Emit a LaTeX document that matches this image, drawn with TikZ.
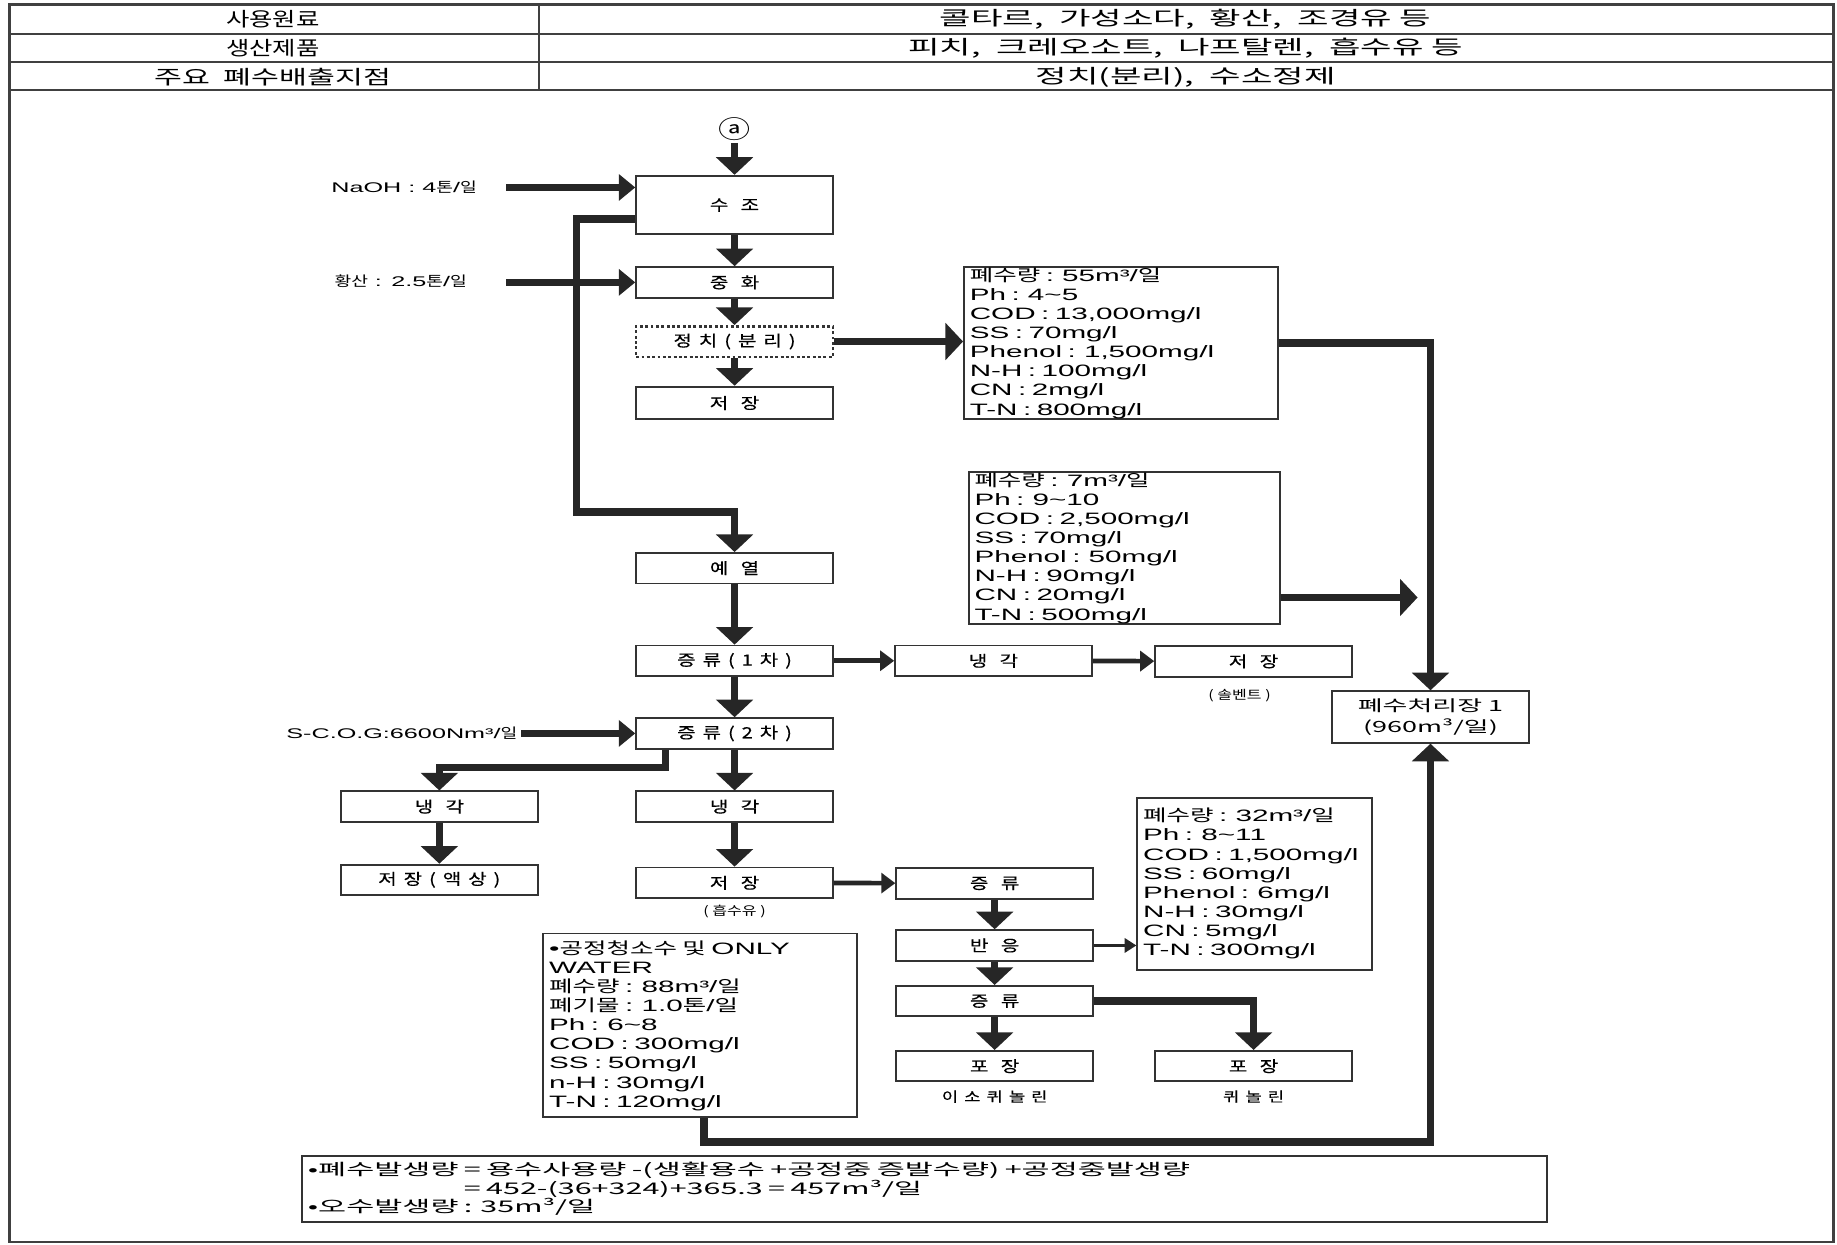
\documentclass[tikz,border=0pt]{standalone}
\usepackage{fontspec}
\setmainfont[FakeStretch=1.8]{Liberation Sans}
\newfontfamily\kr[FakeStretch=1.3]{Noto Sans CJK KR}
\newfontfamily\krw[FakeStretch=1.55]{Noto Sans CJK KR}
\newfontfamily\krt[FakeStretch=1.75]{Noto Sans CJK KR}
\newfontfamily\krb[FakeStretch=1.9]{Noto Sans CJK KR}
\newfontfamily\krbox[FakeStretch=1.3,LetterSpace=45,FakeBold=0.4]{Noto Sans CJK KR}
\usetikzlibrary{arrows.meta, calc}
\newcommand\kgap{\hspace{6pt}}

\begin{document}
\begin{tikzpicture}[x=0.02cm, y=-0.02cm,
    procbox/.style={draw=black!80, line width=0.9pt, fill=white, minimum width=3.36cm,
        minimum height=0.52cm, inner sep=0pt, font=\krbox\fontsize{7.5}{8}\selectfont},
    databox/.style={draw=black!80, line width=0.9pt, anchor=north west, align=left,
        inner xsep=0.1cm, inner ysep=0pt, font=\fontsize{8}{9.3}\selectfont},
    inlabel/.style={inner sep=0pt, font=\fontsize{6.8}{7.5}\selectfont},
    sublabel/.style={inner sep=0pt, font=\kr\fontsize{6}{7}\selectfont},
    tabtxt/.style={inner sep=0pt, font=\kr\fontsize{9.5}{11}\selectfont},
    tabline/.style={draw=black!75, line width=1.2pt},
    bigarrow/.style={draw=black!85, line width=0.13cm, -{Triangle[width=0.62cm,length=0.3cm]}},
    hbigarrow/.style={draw=black!85, line width=0.13cm, -{Triangle[width=0.44cm,length=0.28cm]}},
    midarrow/.style={draw=black!85, line width=0.08cm, -{Triangle[width=0.34cm,length=0.24cm]}},
    thinarrow/.style={draw=black!85, line width=0.06cm, -{Triangle[width=0.24cm,length=0.2cm]}}]

    \useasboundingbox (0,0) rectangle (1568,1062);

    % Header table and outer frame
    \draw[tabline] (8,4) rectangle (1565,1060);
    \foreach \y in {29,53,77}{
        \draw[tabline] (8,\y) -- (1565,\y);
    }
    \draw[tabline] (460,4) -- (460,77);
    \foreach \ty/\ta/\tb [count=\i] in {16/사용원료/{콜타르,\ \ 가성소다,\ \ 황산,\ \ 조경유\ 등},
                                        41/생산제품/{피치,\ \ 크레오소트,\ \ 나프탈렌,\ \ 흡수유\ 등},
                                        66/{\krw 주요\ \ 폐수배출지점}/{정치(분리),\ \ 수소정제}}{
        \node[tabtxt] (tabL\i) at (233,\ty) {\ta};
        \node[tabtxt, font=\krt\fontsize{9.5}{11}\selectfont] (tabR\i) at (1012,\ty) {\tb};
    }

    % Main process column
    \node[inner sep=1pt, font=\kr\fontsize{12}{13}\selectfont] (inA) at (627,110) {ⓐ};
    \node[procbox, minimum height=1cm] (suzo) at (627,175) {수\kgap 조};
    \node[procbox] (junghwa) at (627,241) {중\kgap 화};
    \node[procbox, dash pattern=on 1.4pt off 1.2pt, line width=1.2pt] (jungchi) at (627,291.5) {정치(분리)};
    \node[procbox, minimum height=0.56cm] (store1) at (627,344) {저\kgap 장};
    \node[procbox] (preheat) at (627,485) {예\kgap 열};
    \node[procbox] (dist1) at (627,564) {증류(1차)};
    \node[procbox] (cool1) at (848,564) {냉\kgap 각};
    \node[procbox] (store2) at (1070,564.5) {저\kgap 장};
    \node[sublabel] (solv) at (1058,594) {(\ 솔벤트\ )};
    \node[procbox] (dist2) at (627,626) {증류(2차)};
    \node[procbox] (coolL) at (375,688.5) {냉\kgap 각};
    \node[procbox] (storeL) at (375,751) {저장(액상)};
    \node[procbox] (coolM) at (627,688.5) {냉\kgap 각};
    \node[procbox] (storeM) at (627,753.5) {저\kgap 장};
    \node[sublabel] (absoil) at (627,778) {(\ 흡수유\ )};
    \node[procbox] (dist3) at (849,754) {증\kgap 류};
    \node[procbox] (react) at (849,807) {반\kgap 응};
    \node[procbox] (dist4) at (849,854.5) {증\kgap 류};
    \node[procbox] (packL) at (849,910) {포\kgap 장};
    \node[sublabel, font=\krbox\fontsize{6.6}{7}\selectfont] (isoq) at (849,936) {이소퀴놀린};
    \node[procbox] (packR) at (1070,910) {포\kgap 장};
    \node[sublabel, font=\krbox\fontsize{6.6}{7}\selectfont] (quin) at (1070,936) {퀴놀린};
    \node[procbox, minimum height=0.88cm, align=center, font=\krt\fontsize{7.5}{10}\selectfont] (wwtp) at (1221,612) {폐수처리장 1\\(960m³/일)};

    % Input labels
    \node[inlabel] (naoh) at (345,160) {NaOH : 4{\kr 톤}/{\kr 일}};
    \node[inlabel] (acid) at (342,240) {{\kr 황산} : 2.5{\kr 톤}/{\kr 일}};
    \node[inlabel] (scog) at (343,626) {S-C.O.G:6600Nm³/{\kr 일}};
    \coordinate (naohS) at (432,160);
    \coordinate (acidS) at (432,241);
    \coordinate (scogS) at (445,626);

    % Waste water data boxes
    \node[databox, text width=5.16cm, minimum height=2.6cm] (dat1) at (822,227) {%
        {\krw 폐수량} : 55m³/{\krw 일}\\ Ph : 4\textasciitilde5\\ COD : 13,000mg/l\\ SS : 70mg/l\\
        Phenol : 1,500mg/l\\ N-H : 100mg/l\\ CN : 2mg/l\\ T-N : 800mg/l};
    \node[databox, text width=5.12cm, minimum height=2.6cm] (dat2) at (826,402) {%
        {\krw 폐수량} : 7m³/{\krw 일}\\ Ph : 9\textasciitilde10\\ COD : 2,500mg/l\\ SS : 70mg/l\\
        Phenol : 50mg/l\\ N-H : 90mg/l\\ CN : 20mg/l\\ T-N : 500mg/l};
    \node[databox, text width=3.8cm, minimum height=2.94cm] (dat3) at (970,680) {%
        {\krw 폐수량} : 32m³/{\krw 일}\\ Ph : 8\textasciitilde11\\ COD : 1,500mg/l\\ SS : 60mg/l\\
        Phenol : 6mg/l\\ N-H : 30mg/l\\ CN : 5mg/l\\ T-N : 300mg/l};
    \node[databox, text width=5.16cm, minimum height=3.14cm] (dat4) at (463,796) {%
        •{\krw 공정청소수 및} ONLY\\ WATER\\ {\krw 폐수량} : 88m³/{\krw 일}\\ {\krw 폐기물} : 1.0{\krw 톤}/{\krw 일}\\
        Ph : 6\textasciitilde8\\ COD : 300mg/l\\ SS : 50mg/l\\ n-H : 30mg/l\\ T-N : 120mg/l};
    \node[databox, text width=21.06cm, minimum height=1.12cm, font=\krb\fontsize{7.8}{9.1}\selectfont] (total) at (257,986) {%
        •폐수발생량 = 용수사용량 -(생활용수 +공정중 증발수량) +공정중발생량\\
        \phantom{•폐수발생량 }= 452-(36+324)+365.3 = 457m³/일\\
        •오수발생량 : 35m³/일};

    % Connectors
    \draw[bigarrow] (inA.south) -- (suzo.north);
    \foreach \a/\b in {suzo/junghwa, junghwa/jungchi, jungchi/store1, preheat/dist1, dist1/dist2,
                       dist2/coolM, coolM/storeM, coolL/storeL, dist3/react, react/dist4, dist4/packL}{
        \draw[bigarrow] (\a) -- (\b);
    }
    \draw[hbigarrow] (naohS) -- (naohS -| suzo.west);
    \draw[hbigarrow] (acidS) -- (acidS -| junghwa.west);
    \draw[hbigarrow] (scogS) -- (scogS -| dist2.west);
    \draw[bigarrow] (jungchi) -- (jungchi -| dat1.west);
    \draw[bigarrow] (dat1.east) -| (wwtp.north);
    \coordinate (d2o) at (1210,510);
    \draw[bigarrow] (d2o -| dat2.east) -- (d2o);

    % Bypass from extraction to preheating
    \coordinate (bp1) at (492,187);
    \coordinate (bp2) at (492,437);
    \draw[bigarrow] (bp1 -| suzo.west) -- (bp1) -- (bp2) -| (preheat.north);

    \draw[midarrow] (dist1) -- (cool1);
    \draw[midarrow] (cool1) -- (store2);
    \coordinate (d2l) at (568,655);
    \draw[bigarrow] (dist2.south -| d2l) -- (d2l) -| (coolL.north);
    \draw[midarrow] (storeM) -- (dist3);
    \draw[thinarrow] (react) -- (react -| dat3.west);
    \draw[bigarrow] (dist4.east) -| (packR.north);

    % Process water to treatment plant
    \coordinate (d4a) at (601,975);
    \draw[bigarrow] (dat4.south -| d4a) -- (d4a) -| (wwtp.south);
\end{tikzpicture}
\end{document}
